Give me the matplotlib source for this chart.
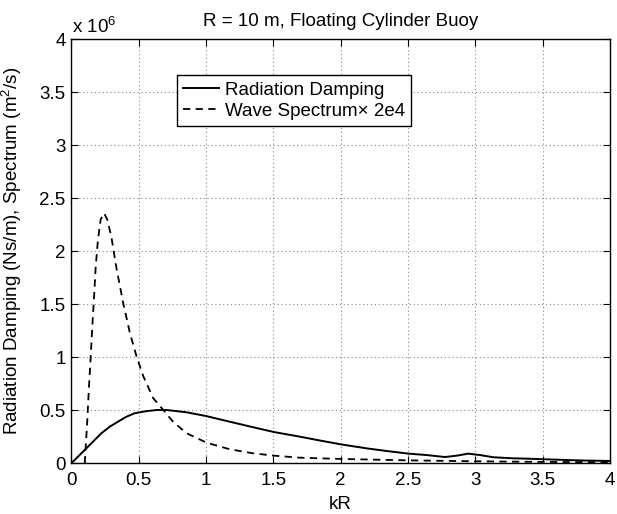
import matplotlib
matplotlib.use("Agg")
import matplotlib.pyplot as plt
from matplotlib.ticker import FuncFormatter, MultipleLocator

plt.rcParams['font.family'] = ['Liberation Sans', 'DejaVu Sans']
plt.rcParams['mathtext.fontset'] = 'custom'
plt.rcParams['mathtext.rm'] = 'Liberation Sans'
plt.rcParams['mathtext.it'] = 'Liberation Sans:italic'

# Radiation damping (N s/m)
kr_damp = [0.0, 0.05, 0.124, 0.223, 0.285, 0.347, 0.41, 0.47, 0.557, 0.638, 0.708,
           0.857, 1.0, 1.178, 1.351, 1.505, 1.698, 1.846, 2.0, 2.193, 2.342, 2.505,
           2.638, 2.774, 2.861, 2.947, 3.034, 3.133, 3.281, 3.405, 3.51, 3.78, 4.0]
damping = [0.0, 0.063e6, 0.157e6, 0.283e6, 0.345e6, 0.393e6, 0.44e6, 0.472e6,
           0.492e6, 0.503e6, 0.503e6, 0.481e6, 0.446e6, 0.392e6, 0.340e6,
           0.295e6, 0.251e6, 0.215e6, 0.179e6, 0.141e6, 0.116e6, 0.091e6,
           0.078e6, 0.059e6, 0.072e6, 0.091e6, 0.078e6, 0.057e6, 0.047e6,
           0.043e6, 0.038e6, 0.027e6, 0.022e6]

# Wave spectrum x 2e4
kr_spec = [0.10, 0.119, 0.131, 0.144, 0.156, 0.169, 0.181, 0.198, 0.218, 0.243,
           0.267, 0.297, 0.334, 0.384, 0.435, 0.485, 0.535, 0.609, 0.683, 0.757,
           0.857, 1.005, 1.178, 1.351, 1.505, 1.698, 2.0, 2.5, 3.0, 3.5, 4.0]
spectrum = [0.0, 0.41e6, 0.72e6, 1.006e6, 1.29e6, 1.57e6, 1.85e6, 2.11e6, 2.30e6,
            2.36e6, 2.30e6, 2.14e6, 1.85e6, 1.52e6, 1.23e6, 1.006e6, 0.82e6,
            0.613e6, 0.503e6, 0.39e6, 0.283e6, 0.194e6, 0.132e6, 0.094e6,
            0.072e6, 0.053e6, 0.041e6, 0.028e6, 0.019e6, 0.013e6, 0.010e6]

labels = ['Radiation Damping', 'Wave Spectrum\u00d7 2e4']
title = 'R = 10 m, Floating Cylinder Buoy'
xlabel = 'kR'
ylabel = 'Radiation Damping (Ns/m), Spectrum (m$^2$/s)'

FS = 13.5
fig = plt.figure(figsize=(6.17, 5.14), dpi=100)
ax = fig.add_axes([71.3 / 617, 1 - 463.3 / 514, (610 - 71.3) / 617, (463.3 - 39.3) / 514])

ax.plot(kr_damp, damping, color='black', lw=1.4, label=labels[0],
        solid_joinstyle='round')
ax.plot(kr_spec, spectrum, color='black', lw=1.3, linestyle=(0, (4, 3)),
        label=labels[1], dash_joinstyle='round')

ax.set_xlim(0, 4)
ax.set_ylim(0, 4e6)
ax.xaxis.set_major_locator(MultipleLocator(0.5))
ax.yaxis.set_major_locator(MultipleLocator(0.5e6))
ax.xaxis.set_major_formatter(FuncFormatter(lambda v, p: '%g' % v))
ax.yaxis.set_major_formatter(FuncFormatter(lambda v, p: '%g' % (v / 1e6)))
ax.tick_params(direction='in', length=5, width=0.8, top=True, right=True,
               labelsize=FS, pad=4, color='black')
ax.tick_params(axis='x', pad=6)
ax.grid(True, linestyle=(0, (1, 2.5)), color='#888888', lw=0.8)
for s in ax.spines.values():
    s.set_linewidth(1.0)
    s.set_color('black')

ax.set_title(title, fontsize=FS, pad=9.6)
ax.set_xlabel(xlabel, fontsize=FS)
ax.set_ylabel(ylabel, fontsize=FS)
ax.xaxis.set_label_coords(0.5, -0.077)
ax.yaxis.set_label_coords(-0.088, 0.5)
ax.text(0.001, 1 + 6 / 424, 'x 10$^6$', transform=ax.transAxes, fontsize=FS,
        ha='left', va='baseline')

leg = ax.legend(loc='upper left', bbox_to_anchor=(0.1957, 0.9158), borderaxespad=0,
                fontsize=FS, frameon=True, fancybox=False, handlelength=1.9,
                handletextpad=0.3, labelspacing=0.2, borderpad=0.35)
leg.get_frame().set_edgecolor('black')
leg.get_frame().set_linewidth(1.0)
leg.get_frame().set_alpha(1)

fig.savefig('out.png', dpi=100)
